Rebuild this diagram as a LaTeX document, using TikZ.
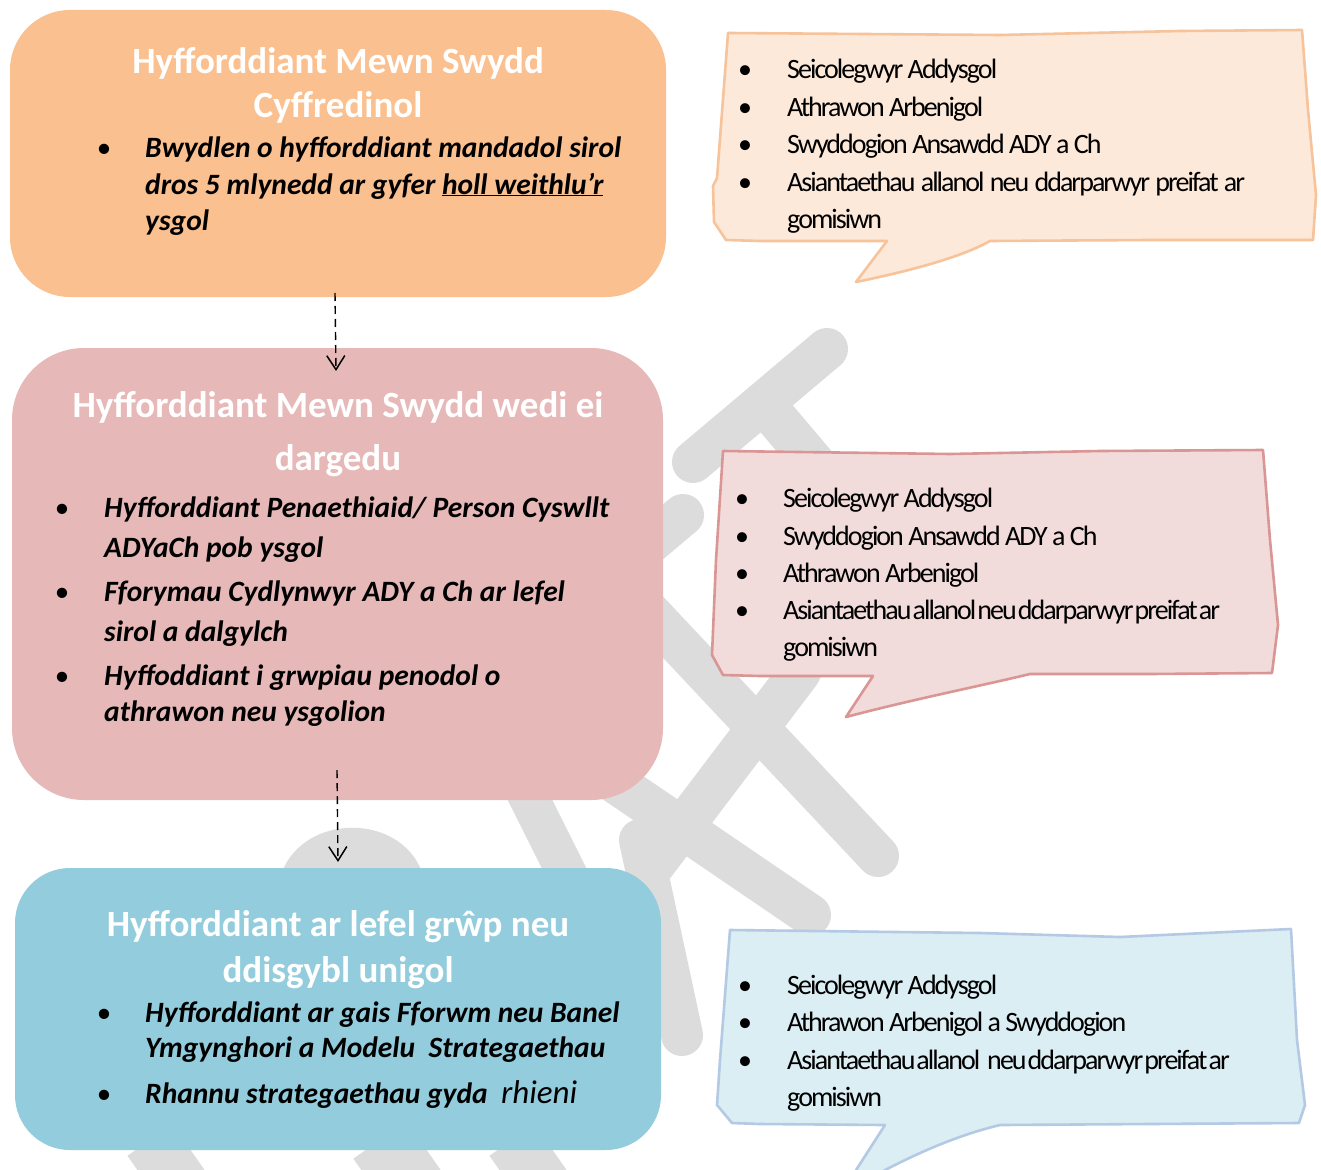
\documentclass[tikz,border=0pt]{standalone}
\usepackage{fontspec}
\setmainfont{Carlito}
\newfontfamily\balfont[LetterSpace=-7]{Carlito}
\usetikzlibrary{arrows.meta}
\definecolor{boxorange}{HTML}{FAC090}
\definecolor{boxpink}{HTML}{E6B9B8}
\definecolor{boxblue}{HTML}{93CDDD}
\definecolor{balorange}{HTML}{FDE9D9}
\definecolor{balorangeline}{HTML}{F7C39A}
\definecolor{balpink}{HTML}{F2DCDB}
\definecolor{balpinkline}{HTML}{D99694}
\definecolor{balblue}{HTML}{DBEEF4}
\definecolor{balblueline}{HTML}{B4C9E4}
\definecolor{wmark}{HTML}{DCDCDC}
\tikzset{
  mainbox/.style={draw=none, inner sep=0pt},
  titletext/.style={font=\fontsize{37}{44}\selectfont\bfseries, text=white, anchor=base, inner sep=0pt},
  itemtext/.style={font=\fontsize{29.5}{36}\selectfont\bfseries\itshape, anchor=base west, inner sep=0pt},
  itemdot/.style={font=\fontsize{29}{36}\selectfont, anchor=base, inner sep=0pt},
  baltext/.style={font=\fontsize{28}{37}\selectfont\balfont, anchor=base west, inner sep=0pt},
  baldot/.style={font=\fontsize{28}{37}\selectfont, anchor=base, inner sep=0pt},
  balloon/.style={line width=2.6pt, line join=round},
  flow/.style={dash pattern=on 8pt off 5pt, line width=1.4pt, -{Straight Barb[length=14pt,width=18pt,line width=1.5pt]}},
  wm/.style={draw=wmark, line width=42pt, line cap=round},
}
\newcommand{\tightline}[2]{\makebox[#1][s]{\spaceskip=1pt plus 20pt\relax #2}}
\begin{document}
\begin{tikzpicture}[x=1pt,y=-1pt]
\useasboundingbox (0,0) rectangle (1321,1169);
\clip (0,0) rectangle (1321,1169);
\fill[white] (0,0) rectangle (1321,1169);

% watermark
\draw[wm] (827,349) -- (693,462);
\draw[wm] (765,405) -- (930,600);
\draw[wm] (600,585) -- (683,515);
\draw[wm] (600,560) -- (878,856);
\draw[wm] (800,672) -- (650,870);
\draw[wm] (600,772) -- (810,915);
\draw[wm] (640,840) -- (682,1035);
\draw[wm, line width=40pt] (520,780) -- (570,880);
\fill[wmark] (282,872) .. controls (305,813) and (400,813) .. (422,872) -- cycle;
\draw[wm, line width=55pt, line cap=butt] (150,1140) -- (185,1190);
\draw[wm, line width=65pt, line cap=butt] (380,1140) -- (415,1190);
\draw[wm, line width=55pt, line cap=butt] (512,1140) -- (547,1190);

% main boxes
\node[mainbox, fill=boxorange, rounded corners=60pt, minimum width=656pt, minimum height=287pt] (box1) at (338,153.5) {};
\node[mainbox, fill=boxpink, rounded corners=72pt, minimum width=651pt, minimum height=452pt] (box2) at (337.5,574) {};
\node[mainbox, fill=boxblue, rounded corners=55pt, minimum width=646pt, minimum height=282pt] (box3) at (338,1009) {};

% box 1 text
\node[titletext] (t1a) at (338,74) {Hyfforddiant Mewn Swydd};
\node[titletext] (t1b) at (338,118) {Cyffredinol};
\node[itemdot] (d1a) at (104,158) {\textbullet};
\node[itemtext] (i1a) at (145,158) {Bwydlen o hyfforddiant mandadol sirol};
\node[itemtext] (i1b) at (145,194) {dros 5 mlynedd ar gyfer \underline{holl weithlu’r}};
\node[itemtext] (i1c) at (145,230) {ysgol};

% box 2 text
\node[titletext] (t2a) at (338,417) {Hyfforddiant Mewn Swydd wedi ei};
\node[titletext] (t2b) at (338,470) {dargedu};
\node[itemdot] (d2a) at (62,517) {\textbullet};
\node[itemtext] (i2a) at (104,517) {Hyfforddiant Penaethiaid/ Person Cyswllt};
\node[itemtext] (i2b) at (104,557) {ADYaCh pob ysgol};
\node[itemdot] (d2b) at (62,601) {\textbullet};
\node[itemtext] (i2c) at (104,601) {Fforymau Cydlynwyr ADY a Ch ar lefel};
\node[itemtext] (i2d) at (104,641) {sirol a dalgylch};
\node[itemdot] (d2c) at (62,685) {\textbullet};
\node[itemtext] (i2e) at (104,685) {Hyffoddiant i grwpiau penodol o};
\node[itemtext] (i2f) at (104,721) {athrawon neu ysgolion};

% box 3 text
\node[titletext] (t3a) at (338,936) {Hyfforddiant ar lefel grŵp neu};
\node[titletext] (t3b) at (338,982) {ddisgybl unigol};
\node[itemdot] (d3a) at (104,1022) {\textbullet};
\node[itemtext] (i3a) at (145,1022) {Hyfforddiant ar gais Fforwm neu Banel};
\node[itemtext] (i3b) at (145,1057) {Ymgynghori a Modelu\ \ Strategaethau};
\node[itemdot] (d3b) at (104,1103) {\textbullet};
\node[itemtext] (i3c) at (145,1103) {Rhannu strategaethau gyda\ \ {\mdseries\fontsize{33}{36}\selectfont rhieni}};

% connectors
\coordinate (a1s) at (335,293);
\coordinate (a1e) at (336,371);
\coordinate (a2s) at (337,770);
\coordinate (a2e) at (338,862);
\draw[flow] (a1s) -- (a1e);
\draw[flow] (a2s) -- (a2e);

% balloon 1
\draw[balloon, fill=balorange, draw=balorangeline]
  (728,33) -- (1000,35) -- (1180,31) -- (1302,30) -- (1308,110) -- (1316,195) -- (1313,240)
  -- (1150,240) -- (990,241) .. controls (960,258) and (905,272) .. (856,282) -- (887,241)
  -- (760,241) -- (726,240) -- (714,222) -- (713,186) -- (717,178) -- cycle;
\node[baldot] (b1d1) at (745,79) {\textbullet};
\node[baltext] (b1a) at (787,79) {Seicolegwyr Addysgol};
\node[baldot] (b1d2) at (745,116.5) {\textbullet};
\node[baltext] (b1b) at (787,116.5) {Athrawon Arbenigol};
\node[baldot] (b1d3) at (745,154) {\textbullet};
\node[baltext] (b1c) at (787,154) {Swyddogion Ansawdd ADY a Ch};
\node[baldot] (b1d4) at (745,191) {\textbullet};
\node[baltext] (b1e) at (787,191) {\makebox[458pt][s]{Asiantaethau allanol neu ddarparwyr preifat ar}};
\node[baltext] (b1f) at (787,228) {gomisiwn};

% balloon 2
\draw[balloon, fill=balpink, draw=balpinkline]
  (723,451) -- (950,454) -- (1100,451) -- (1263,450) -- (1270,540) -- (1278,625) -- (1272,673)
  -- (1150,674) -- (1030,674) .. controls (980,686) and (910,700) .. (846,717) -- (873,676)
  -- (760,676) -- (723,675) -- (712,655) -- (716,560) -- cycle;
\node[baldot] (b2d1) at (742,507) {\textbullet};
\node[baltext] (b2a) at (783,507) {Seicolegwyr Addysgol};
\node[baldot] (b2d2) at (742,545) {\textbullet};
\node[baltext] (b2b) at (783,545) {Swyddogion Ansawdd ADY a Ch};
\node[baldot] (b2d3) at (742,582) {\textbullet};
\node[baltext] (b2c) at (783,582) {Athrawon Arbenigol};
\node[baldot] (b2d4) at (742,619) {\textbullet};
\node[baltext] (b2e) at (783,619) {\tightline{437pt}{Asiantaethau allanol neu ddarparwyr preifat ar}};
\node[baltext] (b2f) at (783,656) {gomisiwn};

% balloon 3
\draw[balloon, fill=balblue, draw=balblueline]
  (730,930) -- (980,933) -- (1120,937) -- (1291,929) -- (1297,1040) -- (1305,1105) -- (1299,1123)
  -- (1150,1124) -- (1000,1125) .. controls (950,1137) and (900,1160) .. (840,1195) -- (885,1125)
  -- (760,1124) -- (732,1123) -- (717,1105) -- (720,1060) -- cycle;
\node[baldot] (b3d1) at (745,994) {\textbullet};
\node[baltext] (b3a) at (787,994) {Seicolegwyr Addysgol};
\node[baldot] (b3d2) at (745,1031) {\textbullet};
\node[baltext] (b3b) at (787,1031) {Athrawon Arbenigol a Swyddogion};
\node[baldot] (b3d3) at (745,1069) {\textbullet};
\node[baltext] (b3c) at (787,1069) {\tightline{441pt}{Asiantaethau allanol\hspace{6pt} neu ddarparwyr preifat ar}};
\node[baltext] (b3e) at (787,1106) {gomisiwn};
\end{tikzpicture}
\end{document}
